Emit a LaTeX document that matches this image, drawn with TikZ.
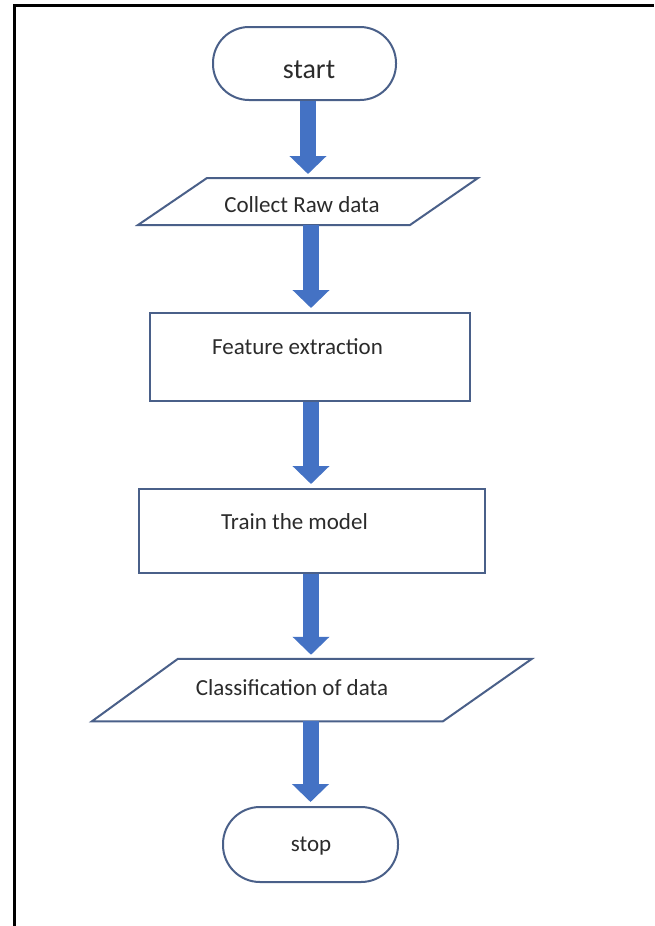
\documentclass[tikz,border=0pt]{standalone}
\usepackage{fontspec}
\setmainfont{Carlito}
\usetikzlibrary{arrows.meta,calc}
\definecolor{outl}{HTML}{4A6089}
\definecolor{arr}{HTML}{4472C4}
\definecolor{txt}{HTML}{2B2B2B}
\begin{document}
\begin{tikzpicture}[x=1pt,y=-1pt,
  shapeline/.style={draw=outl,line width=2pt},
  term/.style={shapeline,rectangle,inner sep=0pt},
  boxnode/.style={shapeline,rectangle,inner sep=0pt},
  plain/.style={inner sep=0pt,outer sep=0pt},
  lbl/.style={inner sep=0pt,anchor=base,text=txt,font=\fontsize{23pt}{27pt}\selectfont},
  flow/.style={draw=arr,line width=16pt,-{Triangle[width=36pt,length=18pt]},shorten >=4pt}]
\useasboundingbox (0,0) rectangle (654,926);
\fill[white] (0,0) rectangle (654,926);
\draw[line width=3pt] (14,926) -- (14,5) -- (654,5);
% shapes
\node[term,rounded corners=36pt,minimum width=183pt,minimum height=73pt] (start) at (304.5,63.5) {};
\node[plain,minimum width=340pt,minimum height=47pt] (collect) at (308,201.5) {};
\draw[shapeline] ([xshift=69pt]collect.north west) -- (collect.north east)
  -- ([xshift=-68pt]collect.south east) -- (collect.south west) -- cycle;
\node[boxnode,minimum width=320pt,minimum height=88pt] (feature) at (310,357) {};
\node[boxnode,minimum width=346pt,minimum height=84pt] (train) at (312,531) {};
\node[plain,minimum width=440pt,minimum height=62.5pt] (classif) at (312,690) {};
\draw[shapeline] ([xshift=86pt]classif.north west) -- (classif.north east)
  -- ([xshift=-89pt]classif.south east) -- (classif.south west) -- cycle;
\node[term,rounded corners=37pt,minimum width=175pt,minimum height=75pt] (stop) at (310.5,844.5) {};
% labels
\node[lbl,font=\fontsize{28pt}{32pt}\selectfont] (tstart) at (309,78) {start};
\node[lbl] (tcollect) at (302,212) {Collect Raw data};
\node[lbl] (tfeature) at (297.5,354) {Feature extraction};
\node[lbl] (ttrain) at (294.5,529) {Train the model};
\node[lbl] (tclassif) at (292,695) {Classification of data};
\node[lbl] (tstop) at (311,851) {stop};
% connectors
\coordinate (ax1) at (308,0);
\coordinate (ax2) at (311,0);
\coordinate (ax3) at (311,0);
\coordinate (ax4) at (311,0);
\coordinate (ax5) at (310.5,0);
\draw[flow] (start.south -| ax1) -- (collect.north -| ax1);
\draw[flow] (collect.south -| ax2) -- (feature.north -| ax2);
\draw[flow] (feature.south -| ax3) -- (train.north -| ax3);
\draw[flow] (train.south -| ax4) -- (classif.north -| ax4);
\draw[flow] (classif.south -| ax5) -- (stop.north -| ax5);
\end{tikzpicture}
\end{document}
